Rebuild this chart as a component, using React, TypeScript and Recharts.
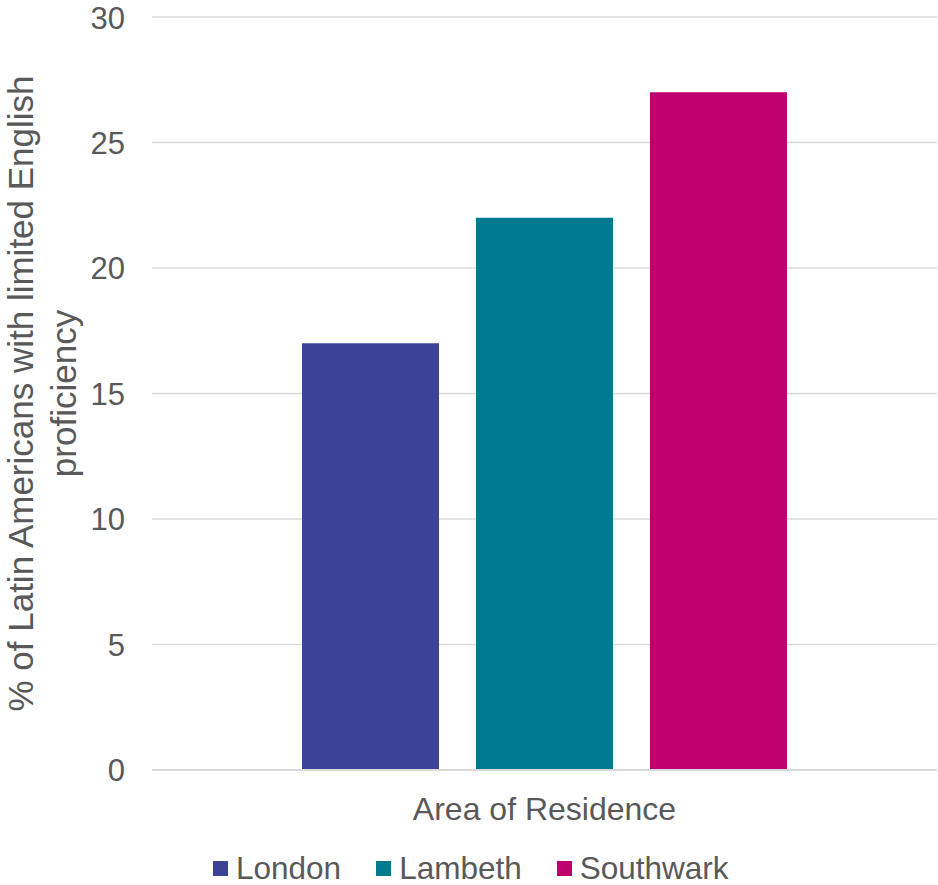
import { BarChart, Bar, XAxis, YAxis, CartesianGrid, Legend } from "recharts";

const categories = ["Area of Residence"];
const london = [17];
const lambeth = [22];
const southwark = [27];
const yTicks = [0, 5, 10, 15, 20, 25, 30];
const yTitleLines = ["% of Latin Americans with limited English", "proficiency"];

const seriesInfo = [
  { key: "London", color: "#3C4396" },
  { key: "Lambeth", color: "#007A8F" },
  { key: "Southwark", color: "#BF006E" },
];

const FONT = "'Liberation Sans', Arial, Helvetica, sans-serif";
const TEXT = "#595959";

const data = categories.map((c, i) => ({
  area: c,
  London: london[i],
  Lambeth: lambeth[i],
  Southwark: southwark[i],
}));

function YTitle(props: any) {
  const vb = props.viewBox ?? { x: 0, y: 0, width: 152, height: 753 };
  const cy = vb.y + vb.height / 2;
  const xs = [33, 76];
  return (
    <g>
      {yTitleLines.map((line, i) => (
        <text
          key={i}
          x={xs[i]}
          y={cy}
          transform={`rotate(-90 ${xs[i]} ${cy})`}
          textAnchor="middle"
          fill={TEXT}
          fontSize={35}
          fontFamily={FONT}
        >
          {line}
        </text>
      ))}
    </g>
  );
}

function XTitle(props: any) {
  const vb = props.viewBox ?? { x: 152, y: 770, width: 785, height: 60 };
  return (
    <text x={vb.x + vb.width / 2} y={820} textAnchor="middle" fill={TEXT} fontSize={32} fontFamily={FONT}>
      {categories[0]}
    </text>
  );
}

function LegendBox() {
  return (
    <div style={{ display: "flex", alignItems: "center", paddingLeft: 213, fontFamily: FONT, fontSize: 31.5, color: TEXT, lineHeight: "36px" }}>
      {seriesInfo.map((s, i) => (
        <div key={s.key} style={{ display: "flex", alignItems: "center", marginLeft: i === 0 ? 0 : 35 }}>
          <span style={{ width: 15, height: 15, background: s.color, display: "inline-block", marginRight: 8 }} />
          <span>{s.key}</span>
        </div>
      ))}
    </div>
  );
}

export default function App() {
  return (
    <div style={{ position: "absolute", left: 0, top: 0, width: 938, height: 885, background: "#fff" }}>
      <BarChart
        width={938}
        height={885}
        data={data}
        margin={{ top: 17, right: 1, bottom: 55, left: 0 }}
        barCategoryGap={150}
        barGap={37}
      >
        <CartesianGrid vertical={false} stroke="#D9D9D9" strokeWidth={1.5} />
        <XAxis
          dataKey="area"
          height={60}
          tick={false}
          tickLine={false}
          axisLine={{ stroke: "#D9D9D9", strokeWidth: 2 }}
          label={{ content: XTitle }}
        />
        <YAxis
          width={152}
          domain={[0, 30]}
          ticks={yTicks}
          axisLine={false}
          tickLine={false}
          tickSize={0}
          tickMargin={27}
          tick={{ fill: TEXT, fontSize: 31, fontFamily: FONT }}
          label={{ content: YTitle }}
        />
        <Legend
          layout="horizontal"
          verticalAlign="middle"
          align="center"
          wrapperStyle={{ top: 850, left: 0, width: 938 }}
          content={LegendBox}
        />
        {seriesInfo.map((s) => (
          <Bar key={s.key} dataKey={s.key} fill={s.color} isAnimationActive={false} />
        ))}
      </BarChart>
    </div>
  );
}
